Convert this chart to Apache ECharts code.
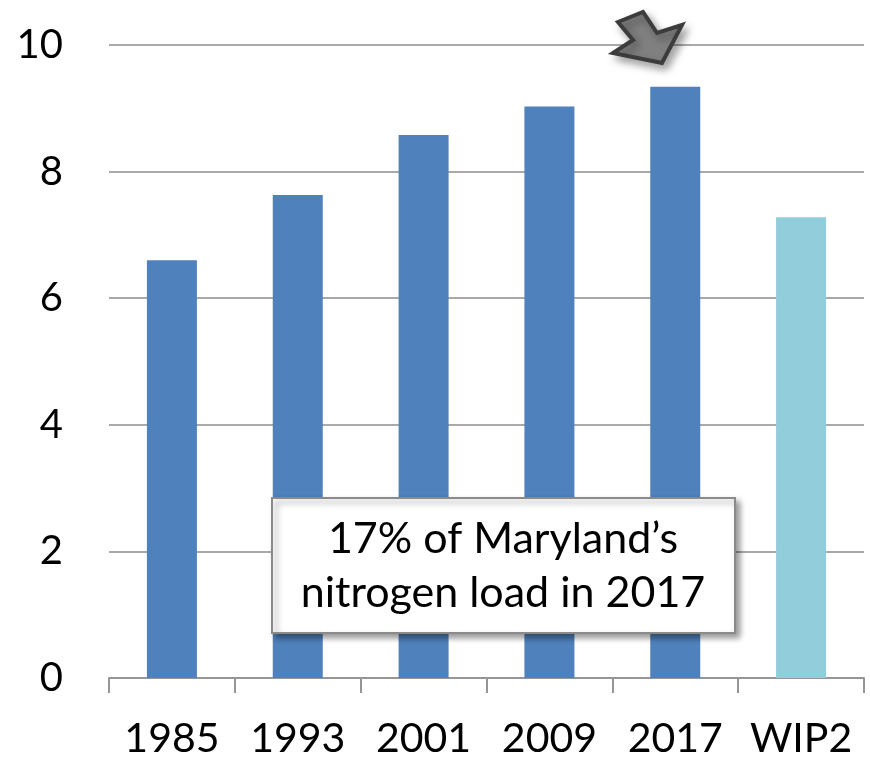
<!DOCTYPE html>
<html>
<head>
<meta charset="utf-8">
<script src="https://cdn.jsdelivr.net/npm/echarts@6/dist/echarts.min.js"></script>
<style>
  html, body { margin: 0; padding: 0; background: #fff; }
  #chart { width: 870px; height: 759px; }
</style>
</head>
<body>
<div id="chart"></div>
<script>
const years = ['1985', '1993', '2001', '2009', '2017', 'WIP2']
const loads = [6.6, 7.63, 8.58, 9.03, 9.34, 7.28]
const barColors = ['#4f81bd', '#4f81bd', '#4f81bd', '#4f81bd', '#4f81bd', '#92cddc']
const yTicks = [0, 2, 4, 6, 8, 10]
const noteLines = ['17% of Maryland\u2019s', 'nitrogen load in 2017']

const myChart = echarts.init(document.getElementById('chart'))
const font = 'Lato, "Open Sans", sans-serif'

const option = {
  animation: false,
  grid: { left: 109, right: 6, top: 45, bottom: 78 },
  xAxis: {
    type: 'category',
    data: years,
    axisLine: { lineStyle: { color: '#969696', width: 2 } },
    axisTick: { show: true, length: 15, lineStyle: { color: '#969696', width: 2 } },
    axisLabel: { interval: 0, color: '#000', fontSize: 41, fontFamily: font, margin: 40 }
  },
  yAxis: {
    type: 'value',
    min: yTicks[0],
    max: yTicks[yTicks.length - 1],
    interval: 2,
    axisLine: { show: false },
    axisTick: { show: false },
    splitLine: { lineStyle: { color: '#8c8c8c', width: 1.5 } },
    axisLabel: { color: '#000', fontSize: 40, fontFamily: font, margin: 46 }
  },
  series: [
    {
      type: 'bar',
      barWidth: 50,
      data: loads.map((v, i) => ({ value: v, itemStyle: { color: barColors[i] } }))
    }
  ],
  graphic: [
    {
      type: 'polygon',
      z: 100,
      shape: {
        points: [[618, 22], [643, 12], [657, 33], [682, 25], [662, 63], [613, 53], [633, 40]]
      },
      style: {
        fill: '#808080',
        stroke: '#3c3c3c',
        lineWidth: 4,
        lineJoin: 'miter',
        shadowBlur: 8,
        shadowOffsetX: 4,
        shadowOffsetY: 5,
        shadowColor: 'rgba(0,0,0,0.35)'
      }
    },
    {
      type: 'rect',
      z: 100,
      shape: { x: 272, y: 498, width: 463, height: 135 },
      style: {
        fill: '#fff',
        stroke: '#8a8a8a',
        lineWidth: 2,
        shadowBlur: 6,
        shadowOffsetX: 4,
        shadowOffsetY: 4,
        shadowColor: 'rgba(0,0,0,0.4)'
      }
    },
    {
      type: 'text',
      z: 101,
      x: 503,
      y: 566,
      style: {
        text: noteLines.join('\n'),
        fill: '#000',
        font: '43px ' + font,
        lineHeight: 54,
        align: 'center',
        verticalAlign: 'middle'
      }
    }
  ]
}

myChart && myChart.setOption(option)
</script>
</body>
</html>
